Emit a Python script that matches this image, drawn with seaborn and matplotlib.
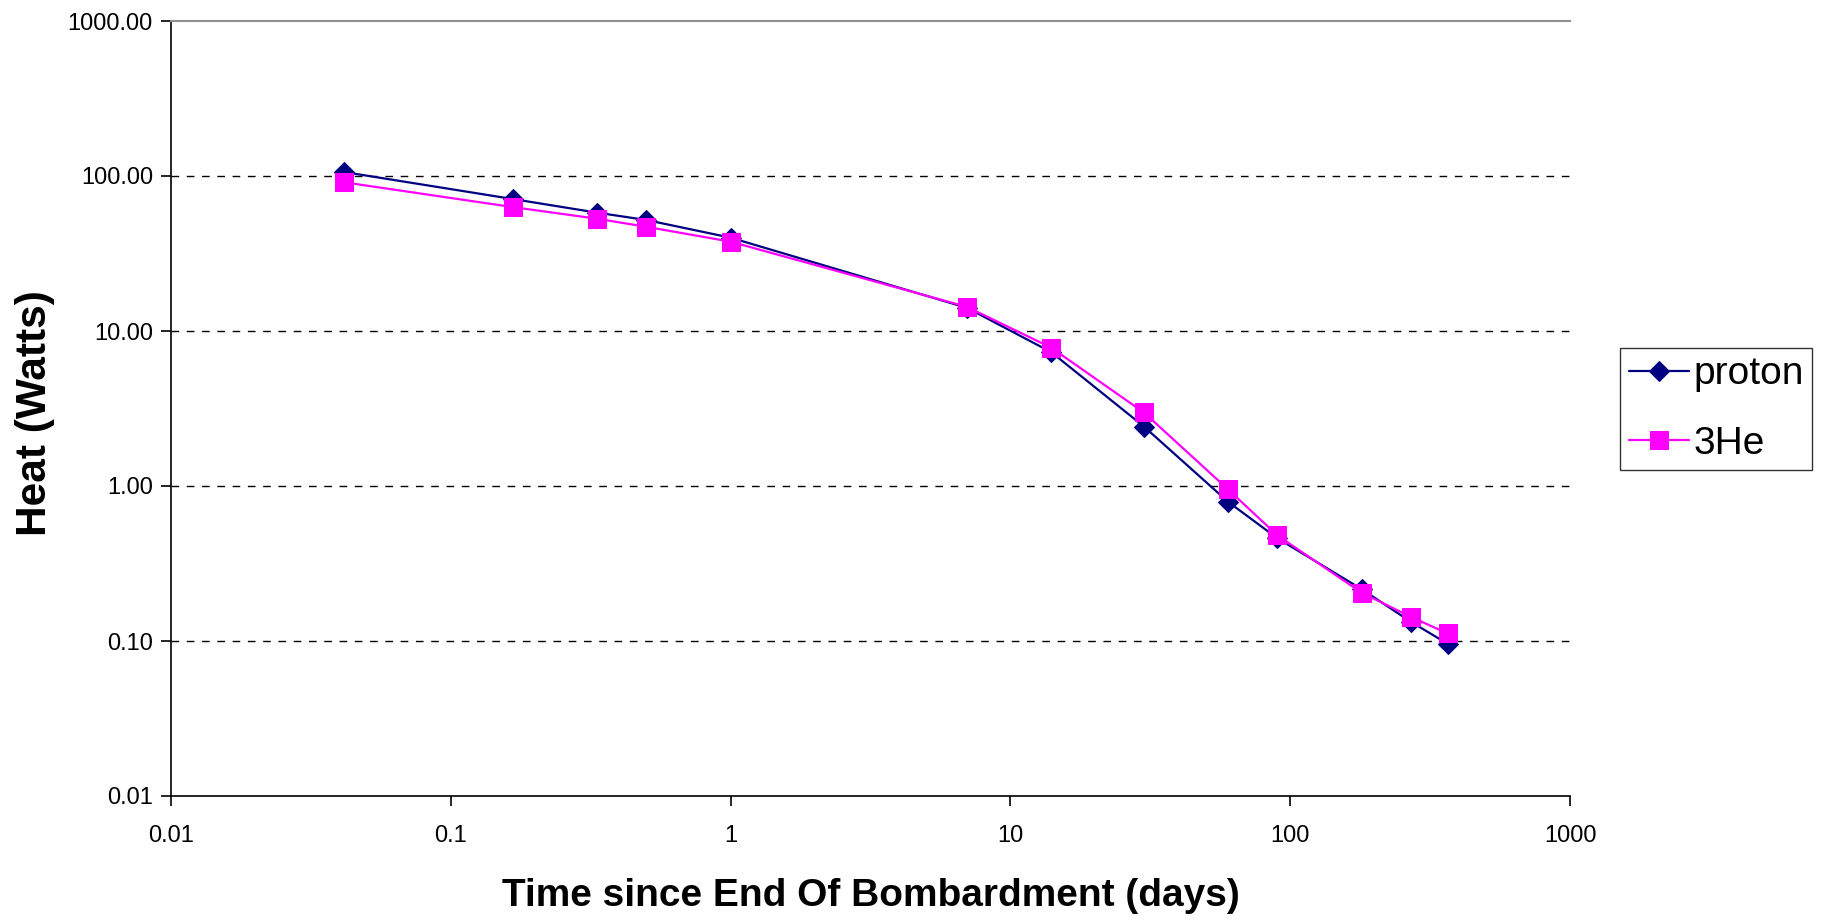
import matplotlib
matplotlib.use("Agg")
import matplotlib.pyplot as plt
import seaborn as sns
import pandas as pd
from matplotlib.ticker import FixedLocator, FixedFormatter, NullLocator

# Data
days = [1/24, 4/24, 8/24, 12/24, 1, 7, 14, 30, 60, 90, 180, 270, 365]
proton = [106, 71, 58, 52, 40, 14.1, 7.3, 2.42, 0.79, 0.46, 0.216, 0.133, 0.096]
he3 = [91, 63, 53, 47, 37.7, 14.3, 7.8, 2.98, 0.95, 0.48, 0.205, 0.143, 0.112]
series_names = ["proton", "3He"]
x_ticks = [0.01, 0.1, 1, 10, 100, 1000]
x_tick_labels = ["0.01", "0.1", "1", "10", "100", "1000"]
y_ticks = [0.01, 0.1, 1, 10, 100, 1000]
y_tick_labels = ["0.01", "0.10", "1.00", "10.00", "100.00", "1000.00"]

sns.set_style("white")
plt.rcParams['font.family'] = ['Liberation Sans', 'DejaVu Sans']
plt.rcParams['text.color'] = 'black'
plt.rcParams['axes.labelcolor'] = 'black'
plt.rcParams['xtick.color'] = 'black'
plt.rcParams['ytick.color'] = 'black'

fig = plt.figure(figsize=(18.22, 9.23), dpi=100)
ax = fig.add_axes([171/1822, 1 - 796/923, (1570 - 171)/1822, (796 - 21)/923])

df_p = pd.DataFrame({"x": days, "y": proton})
df_h = pd.DataFrame({"x": days, "y": he3})
sns.lineplot(data=df_p, x="x", y="y", ax=ax, color="#000080", marker="D",
             markersize=10, markeredgecolor="#000080", linewidth=1.6,
             label=series_names[0], zorder=3)
sns.lineplot(data=df_h, x="x", y="y", ax=ax, color="#FF00FF", marker="s",
             markersize=12.5, markeredgecolor="#FF00FF", linewidth=1.6,
             label=series_names[1], zorder=4)

ax.set_xscale("log")
ax.set_yscale("log")
ax.set_xlim(0.01, 1000)
ax.set_ylim(0.01, 1000)

ax.xaxis.set_major_locator(FixedLocator(x_ticks))
ax.xaxis.set_major_formatter(FixedFormatter(x_tick_labels))
ax.xaxis.set_minor_locator(NullLocator())
ax.yaxis.set_major_locator(FixedLocator(y_ticks))
ax.yaxis.set_major_formatter(FixedFormatter(y_tick_labels))
ax.yaxis.set_minor_locator(NullLocator())

ax.tick_params(axis="both", which="major", direction="out", length=7, width=1.2,
               color="black", labelsize=17, labelcolor="black", bottom=True, left=True)
ax.tick_params(axis="x", pad=14)
ax.tick_params(axis="y", pad=6)

for yv in y_ticks[1:-1]:
    ax.axhline(yv, color="black", linestyle=(0, (5.5, 5.5)), linewidth=1.0, zorder=1)

ax.spines["right"].set_visible(False)
ax.spines["top"].set_color("#909090")
ax.spines["top"].set_linewidth(1.5)
ax.spines["left"].set_color("black")
ax.spines["bottom"].set_color("black")
ax.spines["left"].set_linewidth(1.2)
ax.spines["bottom"].set_linewidth(1.2)
ax.grid(False)

ax.set_xlabel("Time since End Of Bombardment (days)", fontsize=28, fontweight="bold",
              labelpad=22, color="black")
ax.set_ylabel("Heat (Watts)", fontsize=30.5, fontweight="bold", color="black")
ax.yaxis.set_label_coords(-0.083, 0.4935)

leg = ax.legend(loc="center left", bbox_to_anchor=(1620/1822, 1 - 409/923),
                bbox_transform=fig.transFigure, fontsize=28, frameon=True,
                fancybox=False, edgecolor="black", handlelength=1.55,
                borderpad=0.22, labelspacing=0.85, handletextpad=0.12, borderaxespad=0)
leg.get_frame().set_linewidth(1.0)
for t in leg.get_texts():
    t.set_color("black")

fig.savefig("out.png", dpi=100, facecolor="white")
